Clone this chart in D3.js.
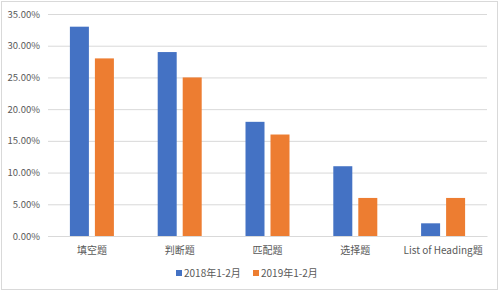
<!DOCTYPE html>
<html><head><meta charset="utf-8">
<script src="https://cdn.jsdelivr.net/npm/d3@7"></script>
<style>body{margin:0;background:#fff}svg{display:block}text{font-family:"Noto Sans CJK SC","Noto Sans",sans-serif;fill:#595959}</style>
</head><body>
<svg id="c" width="500" height="292"></svg>
<script>
const categories = ["填空题","判断题","匹配题","选择题","List of Heading题"];
const seriesNames = ["2018年1-2月","2019年1-2月"];
const values2018 = [0.33,0.29,0.18,0.11,0.02];
const values2019 = [0.28,0.25,0.16,0.06,0.06];
const yTicks = [0,0.05,0.10,0.15,0.20,0.25,0.30,0.35];
const colors = ["#4472C4","#ED7D31"];

const svg = d3.select("#c");
svg.append("rect").attr("x",1.5).attr("y",1.5).attr("width",496).attr("height",288)
  .attr("fill","#fff").attr("stroke","#d9d9d9");

const L=48,R=487,T=14,B=236;
const y = d3.scaleLinear().domain([0,0.35]).range([B,T]);
const x0 = d3.scaleBand().domain(categories).range([L,R]).padding(0);
const x1 = d3.scaleBand().domain(seriesNames).range([0,44]).paddingInner(0.24);

const yAxis = d3.axisLeft(y).tickValues(yTicks).tickFormat(d3.format(".2%")).tickSize(-(R-L)).tickPadding(8);
const gy = svg.append("g").attr("transform",`translate(${L},0)`).call(yAxis);
gy.select(".domain").remove();
gy.selectAll(".tick line").attr("stroke","#d9d9d9");
gy.selectAll(".tick text").attr("font-size",9.5).attr("fill","#595959");

const data = categories.map((c,i)=>({c, v:[values2018[i],values2019[i]]}));
const g = svg.append("g");
data.forEach(d=>{
  seriesNames.forEach((s,j)=>{
    g.append("rect")
      .attr("x", x0(d.c)+x0.bandwidth()/2-22+x1(s))
      .attr("y", y(d.v[j]))
      .attr("width", x1.bandwidth())
      .attr("height", B-y(d.v[j]))
      .attr("fill", colors[j]);
  });
});

const xAxis = d3.axisBottom(x0).tickSize(0).tickPadding(11);
const gx = svg.append("g").attr("transform",`translate(0,${B})`).call(xAxis);
gx.select(".domain").attr("stroke","#d9d9d9");
gx.selectAll(".tick text").attr("font-size",10).attr("fill","#595959");

const leg = svg.append("g");
const legX=[176,253];
seriesNames.forEach((s,j)=>{
  leg.append("rect").attr("x",legX[j]).attr("y",270).attr("width",6).attr("height",6).attr("fill",colors[j]);
  leg.append("text").attr("x",legX[j]+8).attr("y",277).attr("font-size",10).text(s);
});
</script>
</body></html>
